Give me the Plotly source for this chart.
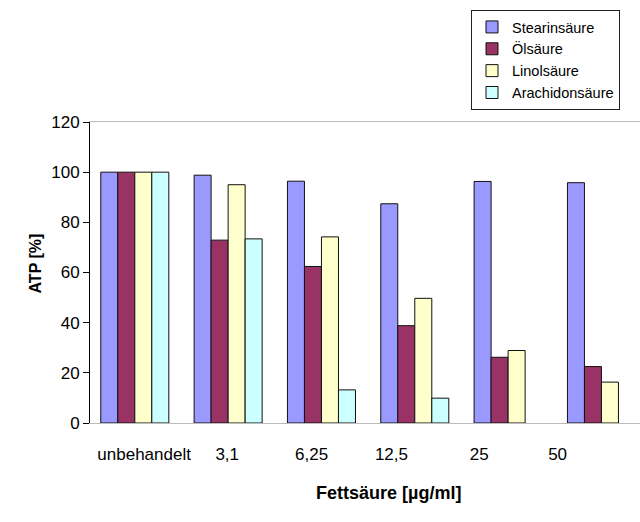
import plotly.graph_objects as go

# Fettsäure-Konzentrationen (x-Kategorien) und ATP-Werte in %
categories = ["unbehandelt", "3,1", "6,25", "12,5", "25", "50"]
stearinsaeure = [100, 98.8, 96.4, 87.4, 96.3, 95.8]
oelsaeure = [100, 72.9, 62.4, 38.8, 26.2, 22.5]
linolsaeure = [100, 95.0, 74.2, 49.7, 28.9, 16.3]
arachidonsaeure = [100, 73.4, 13.2, 9.9, None, None]

series_names = ["Stearinsäure", "Ölsäure", "Linolsäure", "Arachidonsäure"]
series_values = [stearinsaeure, oelsaeure, linolsaeure, arachidonsaeure]
series_colors = ["#9999FF", "#993366", "#FFFFCC", "#CCFFFF"]

y_ticks = [0, 20, 40, 60, 80, 100, 120]

FONT = "Arial, Liberation Sans, sans-serif"
X_RANGE = [-0.48, 5.413]

fig = go.Figure()
for name, vals, col in zip(series_names, series_values, series_colors):
    fig.add_trace(go.Bar(
        name=name,
        x=list(range(len(categories))),
        y=vals,
        marker=dict(color=col, line=dict(color="#111111", width=1)),
    ))

# Invisible helper trace so the label axis is drawn
fig.add_trace(go.Scatter(x=[0], y=[0], xaxis="x2", mode="markers",
                         marker=dict(opacity=0), showlegend=False,
                         hoverinfo="skip"))

label_pos = [0.1, 0.99, 1.895, 2.75, 3.69, 4.53]

fig.update_layout(
    width=640, height=522,
    margin=dict(l=90, r=0, t=122, b=99, autoexpand=False),
    paper_bgcolor="white", plot_bgcolor="white",
    font=dict(family=FONT, size=16, color="black"),
    barmode="group", bargap=0.271, bargroupgap=0,
    xaxis=dict(
        range=X_RANGE, showticklabels=False, ticks="",
        showgrid=False, zeroline=False,
        showline=True, linecolor="#BBBBBB", linewidth=1, mirror=True,
    ),
    xaxis2=dict(
        overlaying="x", side="bottom", range=X_RANGE,
        tickmode="array", tickvals=label_pos, ticktext=categories,
        ticks="outside", ticklen=16, tickcolor="rgba(0,0,0,0)",
        showgrid=False, zeroline=False, showline=False,
        tickfont=dict(family=FONT, size=17, color="black"),
    ),
    yaxis=dict(
        range=[0, 120], tickmode="array", tickvals=y_ticks,
        ticks="outside", ticklen=6, tickcolor="black",
        showgrid=False, zeroline=False,
        showline=True, linecolor="black", linewidth=1,
        tickfont=dict(family=FONT, size=17, color="black"),
    ),
    legend=dict(
        xref="container", yref="container",
        x=471 / 640, y=1 - 10 / 522, xanchor="left", yanchor="top",
        bordercolor="#222222", borderwidth=1, bgcolor="white",
        font=dict(family=FONT, size=14.5, color="black"),
        tracegroupgap=0, itemwidth=30,
    ),
    annotations=[
        dict(text="<b>ATP [%]</b>", xref="paper", yref="paper",
             x=(24 - 90) / 550, y=(423 - 264) / 301, textangle=-90,
             showarrow=False,
             font=dict(family=FONT, size=16, color="black")),
        dict(text="<b>Fettsäure [µg/ml]</b>", xref="paper", yref="paper",
             x=(389 - 90) / 550, y=-(505 - 423) / 301, showarrow=False,
             font=dict(family=FONT, size=18, color="black")),
    ],
)

fig.write_html("out.html")
